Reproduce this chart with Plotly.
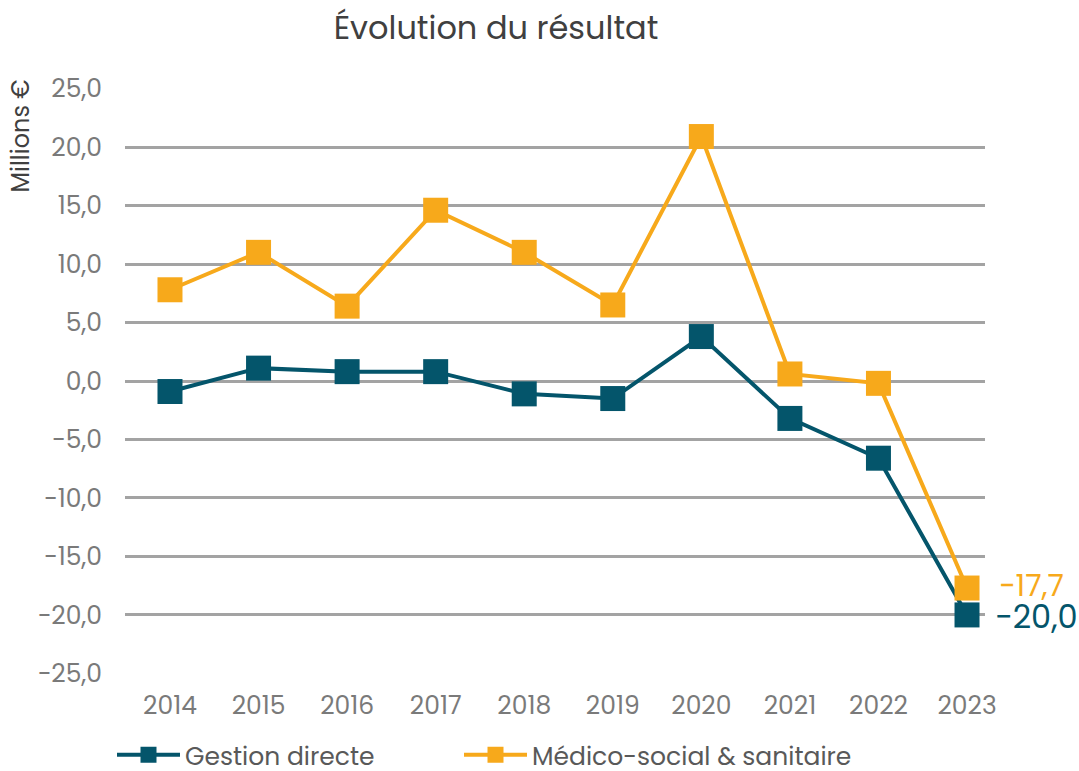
import plotly.graph_objects as go

years = ["2014", "2015", "2016", "2017", "2018", "2019", "2020", "2021", "2022", "2023"]
gestion_directe = [-0.9, 1.1, 0.8, 0.8, -1.1, -1.5, 3.8, -3.2, -6.6, -20.0]
medico_social = [7.8, 11.0, 6.4, 14.6, 11.0, 6.5, 20.9, 0.6, -0.2, -17.7]
y_ticks = [-25, -20, -15, -10, -5, 0, 5, 10, 15, 20, 25]

TEAL = "#04556B"
ORANGE = "#F7A91B"
FONT = "Poppins, Inter, 'Open Sans', sans-serif"
W, H = 1079, 771

fig = go.Figure()
fig.add_trace(go.Scatter(
    x=years, y=gestion_directe, name="Gestion directe", mode="lines+markers",
    line=dict(color=TEAL, width=4),
    marker=dict(symbol="square", size=25, color=TEAL),
    cliponaxis=False, legend="legend",
))
fig.add_trace(go.Scatter(
    x=years, y=medico_social, name="Médico-social & sanitaire", mode="lines+markers",
    line=dict(color=ORANGE, width=4),
    marker=dict(symbol="square", size=25, color=ORANGE),
    cliponaxis=False, legend="legend2",
))

last = len(years) - 1
fig.add_annotation(x=last, y=medico_social[-1], text="−17,7", showarrow=False,
                   xanchor="left", xshift=30, yshift=3,
                   font=dict(size=30, color=ORANGE, family=FONT))
fig.add_annotation(x=last, y=gestion_directe[-1], text="−20,0", showarrow=False,
                   xanchor="left", xshift=26, yshift=-2,
                   font=dict(size=32, color=TEAL, family=FONT))

fig.add_annotation(text="Millions €", xref="paper", yref="paper", x=-0.122, y=1.017,
                   xanchor="center", yanchor="top", textangle=-90, showarrow=False,
                   font=dict(size=24, color="#404040", family=FONT))

legend_common = dict(orientation="h", yref="container", y=16 / H, xref="container",
                     xanchor="left", yanchor="middle",
                     font=dict(size=25, color="#595959", family=FONT), itemwidth=63)

fig.update_layout(
    width=W, height=H,
    paper_bgcolor="white", plot_bgcolor="white",
    separators=", ",
    font=dict(family=FONT, size=25, color="#7A7A7A"),
    title=dict(text="Évolution du résultat", x=496 / W, xref="container", y=1 - 28 / H,
               yref="container", xanchor="center", yanchor="middle",
               font=dict(size=32, color="#404040", family=FONT)),
    margin=dict(l=125, r=94, t=88, b=97, autoexpand=False),
    showlegend=True,
    legend=dict(x=112 / W, **legend_common),
    legend2=dict(x=459 / W, **legend_common),
)
fig.update_xaxes(type="category", range=[-0.508, 9.203], showgrid=False, showline=False,
                 zeroline=False, ticks="", automargin=False, ticklabelstandoff=14,
                 tickfont=dict(size=25, color="#7A7A7A"))
fig.update_yaxes(range=[-25.05, 25.05], tickvals=y_ticks, tickformat=".1f",
                 showgrid=True, gridcolor="#A3A3A3", gridwidth=2.5, zeroline=False,
                 showline=False, ticks="", ticklabelstandoff=22, automargin=False,
                 tickfont=dict(size=25, color="#7A7A7A"))

fig.write_html(
    "out.html",
    config={"displayModeBar": False},
    post_script="document.body.style.margin='0';document.body.style.overflow='hidden';",
)
